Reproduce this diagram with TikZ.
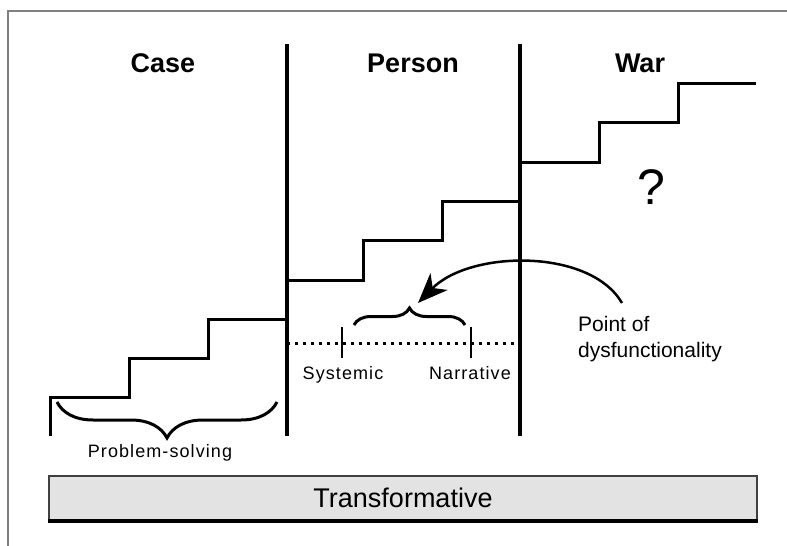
\documentclass[tikz,border=0pt]{standalone}
\usepackage{fontspec}
\setmainfont{Liberation Sans}
\newfontfamily\spacedsans[LetterSpace=6]{Liberation Sans}
\usetikzlibrary{decorations.pathreplacing,arrows.meta}

\begin{document}
\begin{tikzpicture}[x=1pt,y=-1pt,
  stair/.style={line width=3pt, line join=miter, line cap=butt},
  divider/.style={line width=4pt},
  tickmark/.style={line width=1.5pt},
  curly/.style={line width=3pt, decorate},
  heading/.style={font=\fontsize{27}{32}\selectfont\bfseries, anchor=base, inner sep=0pt},
  smalllabel/.style={font=\spacedsans\fontsize{18}{22}\selectfont, anchor=base, inner sep=0pt},
  note/.style={font=\fontsize{21}{26}\selectfont, align=left, anchor=north west, inner sep=0pt},
  band/.style={draw=black!75, line width=1.5pt, fill=black!11,
    minimum width=708pt, minimum height=44pt, inner sep=0pt,
    font=\fontsize{27}{32}\selectfont}
]
\useasboundingbox (0,0) rectangle (787,546);

% page frame
\draw[black!50, line width=2pt] (8,546) -- (8,11) -- (787,11);

% column dividers
\coordinate (d1top) at (287,44);
\coordinate (d1bot) at (287,436);
\coordinate (d2top) at (520,44);
\coordinate (d2bot) at (520,436);
\draw[divider] (d1top) -- (d1bot);
\draw[divider] (d2top) -- (d2bot);

% column headings
\node[heading] (case) at (163,72) {Case};
\node[heading] (person) at (413,72) {Person};
\node[heading] (war) at (640,72) {War};

% staircases
\draw[stair] (50,436) -- (50,397) -- (129,397) -- (129,358) -- (208,358)
  -- (208,319) -- (287,319);
\draw[stair] (287,280) -- (363,280) -- (363,240) -- (442,240) -- (442,201)
  -- (520,201);
\draw[stair] (520,162) -- (599,162) -- (599,122) -- (678,122) -- (678,83)
  -- (756,83);

% systemic / narrative scale
\coordinate (dotL) at (287,343);
\coordinate (dotR) at (520,343);
\draw[line width=3pt, dash pattern=on 3pt off 5pt] (dotL) -- (dotR);
\draw[tickmark] (342,327) -- (342,358);
\draw[tickmark] (471,327) -- (471,358);
\node[smalllabel] (systemic) at (343,379) {Systemic};
\node[smalllabel] (narrative) at (470,379) {Narrative};

% braces
\draw[curly, decoration={brace, amplitude=17pt}] (354,325) -- (465,325);
\draw[curly, decoration={brace, amplitude=36pt}] (277,402) -- (57,402);
\node[smalllabel] (problem) at (160,457) {Problem-solving};

% point of dysfunctionality
\node[note] (point) at (578,316) {Point of\\dysfunctionality};
\coordinate (arrstart) at (622,303);
\coordinate (arrend) at (418,303);
\draw[line width=2.5pt, -{Stealth[length=30pt,width=24pt,inset=9pt]}]
  (arrstart) .. controls (590,248) and (470,250) .. (arrend);

% unknown future
\node[font=\fontsize{50}{60}\selectfont, inner sep=0pt] (query) at (651,187) {?};

% transformative band
\node[band] (transf) at (403,498) {Transformative};
\draw[line width=3.5pt] (transf.south west) -- (transf.south east);
\end{tikzpicture}
\end{document}
